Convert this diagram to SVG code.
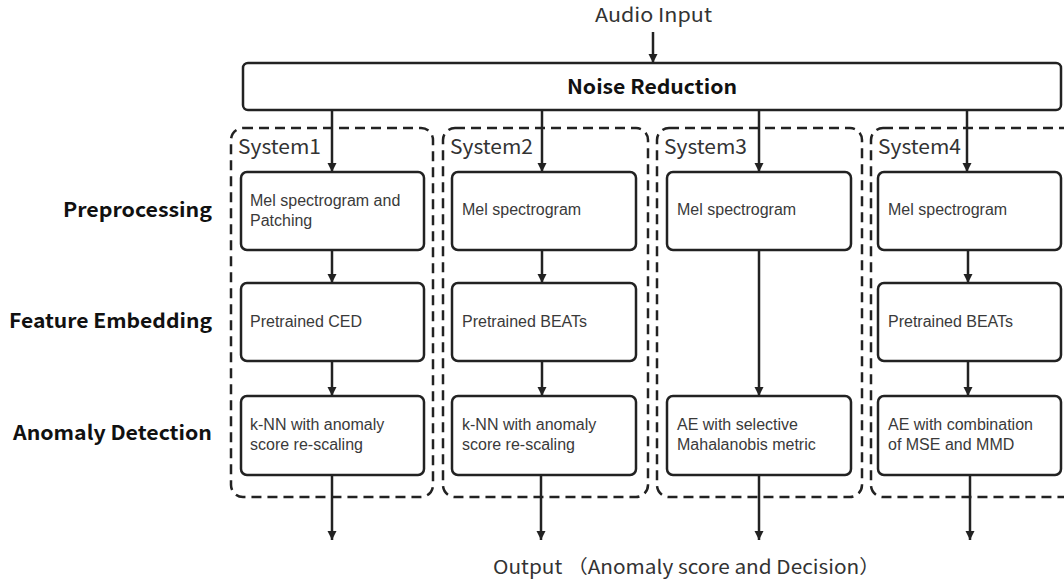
<svg xmlns="http://www.w3.org/2000/svg" width="1064" height="581" viewBox="0 0 1064 581">
  <style>
    .box { fill: #ffffff; stroke: #222222; stroke-width: 2.5; }
    .sys { fill: none; stroke: #222222; stroke-width: 2.5; stroke-dasharray: 10 6; }
    .wire { stroke: #222222; stroke-width: 2.5; fill: none; marker-end: url(#head); }
    .t { font-family: "Noto Sans CJK JP", "Noto Sans", "Liberation Sans", sans-serif; fill: #333333; }
    .body { font-family: "Liberation Sans", Arial, sans-serif; font-size: 16px; fill: #3a3a3a; }
    .syslabel { font-size: 20px; }
    .row { font-size: 20px; font-weight: bold; fill: #111111; text-anchor: end; }
    .head { font-size: 20px; font-weight: bold; fill: #111111; text-anchor: middle; }
    .io { font-size: 19px; }
  </style>
  <defs>
    <marker id="head" markerWidth="10" markerHeight="10" refX="9" refY="5" orient="auto" markerUnits="userSpaceOnUse">
      <path d="M0,0.5 L9,5 L0,9.5 Z" fill="#222222"/>
    </marker>
  </defs>
  <rect width="1064" height="581" fill="#ffffff"/>

  <!-- input / output labels -->
  <text class="t io" x="595" y="22" textLength="117" lengthAdjust="spacingAndGlyphs">Audio Input</text>
  <text class="t io" x="493" y="574" textLength="387" lengthAdjust="spacingAndGlyphs">Output （Anomaly score and Decision）</text>

  <!-- stage labels -->
  <text class="t row" x="212" y="217" textLength="149" lengthAdjust="spacingAndGlyphs">Preprocessing</text>
  <text class="t row" x="212" y="328" textLength="203" lengthAdjust="spacingAndGlyphs">Feature Embedding</text>
  <text class="t row" x="212" y="440" textLength="199" lengthAdjust="spacingAndGlyphs">Anomaly Detection</text>

  <!-- system frames -->
  <g id="system1">
    <rect class="sys" x="231" y="128" width="202" height="369" rx="12"/>
    <text class="t syslabel" x="238" y="154" textLength="83" lengthAdjust="spacingAndGlyphs">System1</text>
  </g>
  <g id="system2">
    <rect class="sys" x="443" y="128" width="205" height="369" rx="12"/>
    <text class="t syslabel" x="450" y="154" textLength="83" lengthAdjust="spacingAndGlyphs">System2</text>
  </g>
  <g id="system3">
    <rect class="sys" x="657" y="128" width="205" height="369" rx="12"/>
    <text class="t syslabel" x="664" y="154" textLength="83" lengthAdjust="spacingAndGlyphs">System3</text>
  </g>
  <g id="system4">
    <rect class="sys" x="871" y="128" width="205" height="369" rx="12"/>
    <text class="t syslabel" x="878" y="154" textLength="83" lengthAdjust="spacingAndGlyphs">System4</text>
  </g>

  <!-- connectors -->
  <g id="connectors">
    <line class="wire" x1="653" y1="32" x2="653" y2="63"/>
    <line class="wire" x1="332" y1="110" x2="332" y2="172"/>
    <line class="wire" x1="542" y1="110" x2="542" y2="172"/>
    <line class="wire" x1="759" y1="110" x2="759" y2="172"/>
    <line class="wire" x1="967" y1="110" x2="967" y2="172"/>

    <line class="wire" x1="332" y1="250" x2="332" y2="283"/>
    <line class="wire" x1="542" y1="250" x2="542" y2="283"/>
    <line class="wire" x1="759" y1="250" x2="759" y2="396"/>
    <line class="wire" x1="968" y1="250" x2="968" y2="283"/>

    <line class="wire" x1="332" y1="361" x2="332" y2="396"/>
    <line class="wire" x1="542" y1="361" x2="542" y2="396"/>
    <line class="wire" x1="968" y1="361" x2="968" y2="396"/>

    <line class="wire" x1="332" y1="475" x2="332" y2="540"/>
    <line class="wire" x1="541" y1="475" x2="541" y2="540"/>
    <line class="wire" x1="759" y1="475" x2="759" y2="540"/>
    <line class="wire" x1="970" y1="475" x2="970" y2="540"/>
  </g>

  <!-- shared front end -->
  <g id="noise-reduction">
    <rect class="box" x="243" y="63" width="818" height="47" rx="5"/>
    <text class="t head" x="652" y="94" textLength="170" lengthAdjust="spacingAndGlyphs">Noise Reduction</text>
  </g>

  <!-- System1 -->
  <g id="s1-pre">
    <rect class="box" x="241" y="172" width="183" height="78" rx="6"/>
    <text class="body" x="250" y="206">Mel spectrogram and<tspan x="250" dy="20">Patching</tspan></text>
  </g>
  <g id="s1-emb">
    <rect class="box" x="241" y="283" width="183" height="78" rx="6"/>
    <text class="body" x="250" y="327">Pretrained CED</text>
  </g>
  <g id="s1-det">
    <rect class="box" x="241" y="396" width="183" height="79" rx="6"/>
    <text class="body" x="250" y="430">k-NN with anomaly<tspan x="250" dy="20">score re-scaling</tspan></text>
  </g>

  <!-- System2 -->
  <g id="s2-pre">
    <rect class="box" x="452" y="172" width="184" height="78" rx="6"/>
    <text class="body" x="462" y="215">Mel spectrogram</text>
  </g>
  <g id="s2-emb">
    <rect class="box" x="452" y="283" width="184" height="78" rx="6"/>
    <text class="body" x="462" y="327">Pretrained BEATs</text>
  </g>
  <g id="s2-det">
    <rect class="box" x="452" y="396" width="184" height="79" rx="6"/>
    <text class="body" x="462" y="430">k-NN with anomaly<tspan x="462" dy="20">score re-scaling</tspan></text>
  </g>

  <!-- System3 -->
  <g id="s3-pre">
    <rect class="box" x="667" y="172" width="184" height="78" rx="6"/>
    <text class="body" x="677" y="215">Mel spectrogram</text>
  </g>
  <g id="s3-det">
    <rect class="box" x="667" y="396" width="184" height="79" rx="6"/>
    <text class="body" x="677" y="430">AE with selective<tspan x="677" dy="20">Mahalanobis metric</tspan></text>
  </g>

  <!-- System4 -->
  <g id="s4-pre">
    <rect class="box" x="878" y="172" width="183" height="78" rx="6"/>
    <text class="body" x="888" y="215">Mel spectrogram</text>
  </g>
  <g id="s4-emb">
    <rect class="box" x="878" y="283" width="183" height="78" rx="6"/>
    <text class="body" x="888" y="327">Pretrained BEATs</text>
  </g>
  <g id="s4-det">
    <rect class="box" x="878" y="396" width="183" height="79" rx="6"/>
    <text class="body" x="888" y="430">AE with combination<tspan x="888" dy="20">of MSE and MMD</tspan></text>
  </g>
</svg>
